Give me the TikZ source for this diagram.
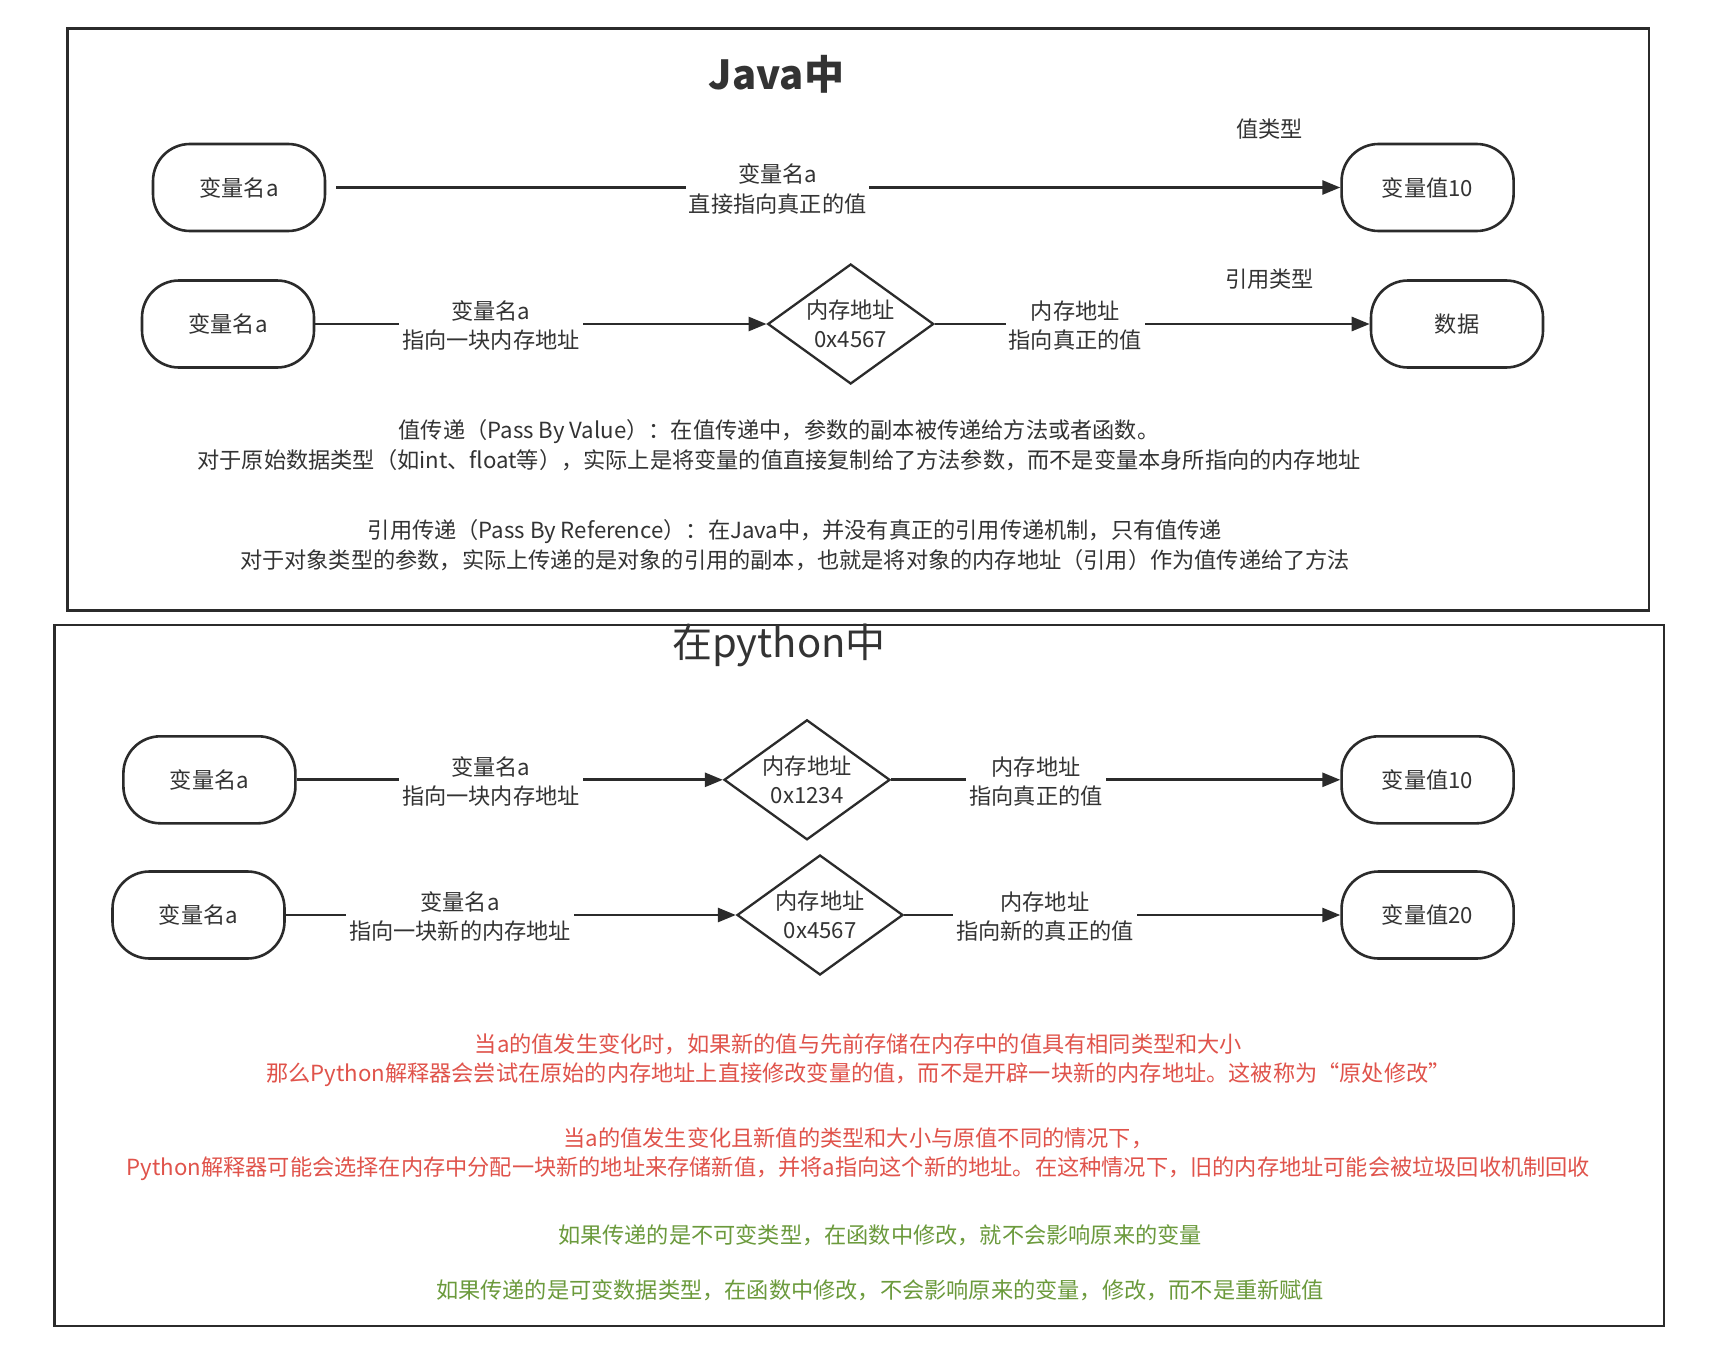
\documentclass[tikz,border=0pt]{standalone}
\usepackage{fontspec}
\setmainfont{Noto Sans CJK SC}
\usetikzlibrary{shapes.geometric,arrows.meta}
\definecolor{ink}{HTML}{333333}
\definecolor{lineC}{HTML}{2B2B2B}
\definecolor{redT}{HTML}{E0534B}
\definecolor{greenT}{HTML}{6B9A3C}
\begin{document}
\begin{tikzpicture}[x=1pt,y=-1pt,
  every node/.style={font=\fontsize{22.2}{29.4}\selectfont, text=ink, align=center},
  term/.style={draw=lineC, line width=2.6pt, rounded corners=37pt, minimum width=172pt, minimum height=87pt, inner sep=0pt},
  dia/.style={draw=lineC, line width=2.3pt, diamond, aspect=1.383, minimum width=166pt, minimum height=120pt, inner sep=0pt},
  conn/.style={draw=lineC, line width=2.7pt, -{Triangle[length=18pt,width=14pt]}},
  lbl/.style={fill=white, inner sep=3pt, yshift=-1.5pt},
  frame/.style={draw=lineC, line width=2.5pt},
  redtxt/.style={text=redT},
  greentxt/.style={text=greenT}
]
\useasboundingbox (0,0) rectangle (1710,1362);
\fill[white] (0,0) rectangle (1710,1362);

% frames
\draw[frame] (67.6,28.4) rectangle (1649,610.7);
\draw[frame] (54.5,625) rectangle (1664,1326);

% ===== Java =====
\node[font=\fontsize{40}{44}\bfseries] (tj) at (776.5,74) {Java中};

\node[term] (j1a) at (239,187.5) {变量名a};
\node[term] (j1b) at (1427.6,187.5) {变量值10};
\draw[conn, shorten <=10pt] (j1a) -- (j1b);
\node[lbl] (j1l) at (777.6,187.5) {变量名a\\直接指向真正的值};
\node (j1t) at (1269.5,128.7) {值类型};

\node[term] (j2a) at (228,324) {变量名a};
\node[dia] (j2d) at (850.7,324) {内存地址\\0x4567};
\node[term] (j2b) at (1457,324) {数据};
\draw[conn] (j2a) -- (j2d);
\draw[conn] (j2d) -- (j2b);
\node[lbl] (j2l1) at (490.8,324) {变量名a\\指向一块内存地址};
\node[lbl] (j2l2) at (1075.3,324) {内存地址\\指向真正的值};
\node (j2t) at (1269.5,279) {引用类型};

\node (jp1) at (779,445) {值传递（Pass By Value）：在值传递中，参数的副本被传递给方法或者函数。\\对于原始数据类型（如int、float等），实际上是将变量的值直接复制给了方法参数，而不是变量本身所指向的内存地址};
\node (jp2) at (795,545) {引用传递（Pass By Reference）：在Java中，并没有真正的引用传递机制，只有值传递\\对于对象类型的参数，实际上传递的是对象的引用的副本，也就是将对象的内存地址（引用）作为值传递给了方法};

% ===== Python =====
\node[font=\fontsize{40}{44}\selectfont] (tp) at (779,645.5) {在python中};

\node[term] (p1a) at (209.4,779.8) {变量名a};
\node[dia] (p1d) at (807,779.8) {内存地址\\0x1234};
\node[term] (p1b) at (1427.6,779.8) {变量值10};
\draw[conn] (p1a) -- (p1d);
\draw[conn] (p1d) -- (p1b);
\node[lbl] (p1l1) at (490.8,779.8) {变量名a\\指向一块内存地址};
\node[lbl] (p1l2) at (1036,779.8) {内存地址\\指向真正的值};

\node[term] (p2a) at (198.5,915) {变量名a};
\node[dia] (p2d) at (820,915) {内存地址\\0x4567};
\node[term] (p2b) at (1427.6,915) {变量值20};
\draw[conn] (p2a) -- (p2d);
\draw[conn] (p2d) -- (p2b);
\node[lbl] (p2l1) at (460,915) {变量名a\\指向一块新的内存地址};
\node[lbl] (p2l2) at (1044.8,915) {内存地址\\指向新的真正的值};

\node[redtxt] (r1) at (858.5,1060) {当a的值发生变化时，如果新的值与先前存储在内存中的值具有相同类型和大小\\那么Python解释器会尝试在原始的内存地址上直接修改变量的值，而不是开辟一块新的内存地址。这被称为“原处修改”};
\node[redtxt] (r2) at (858.5,1154) {当a的值发生变化且新值的类型和大小与原值不同的情况下，\\Python解释器可能会选择在内存中分配一块新的地址来存储新值，并将a指向这个新的地址。在这种情况下，旧的内存地址可能会被垃圾回收机制回收};
\node[greentxt] (g1) at (880,1235.5) {如果传递的是不可变类型，在函数中修改，就不会影响原来的变量};
\node[greentxt] (g2) at (880,1290) {如果传递的是可变数据类型，在函数中修改，不会影响原来的变量，修改，而不是重新赋值};
\end{tikzpicture}
\end{document}
